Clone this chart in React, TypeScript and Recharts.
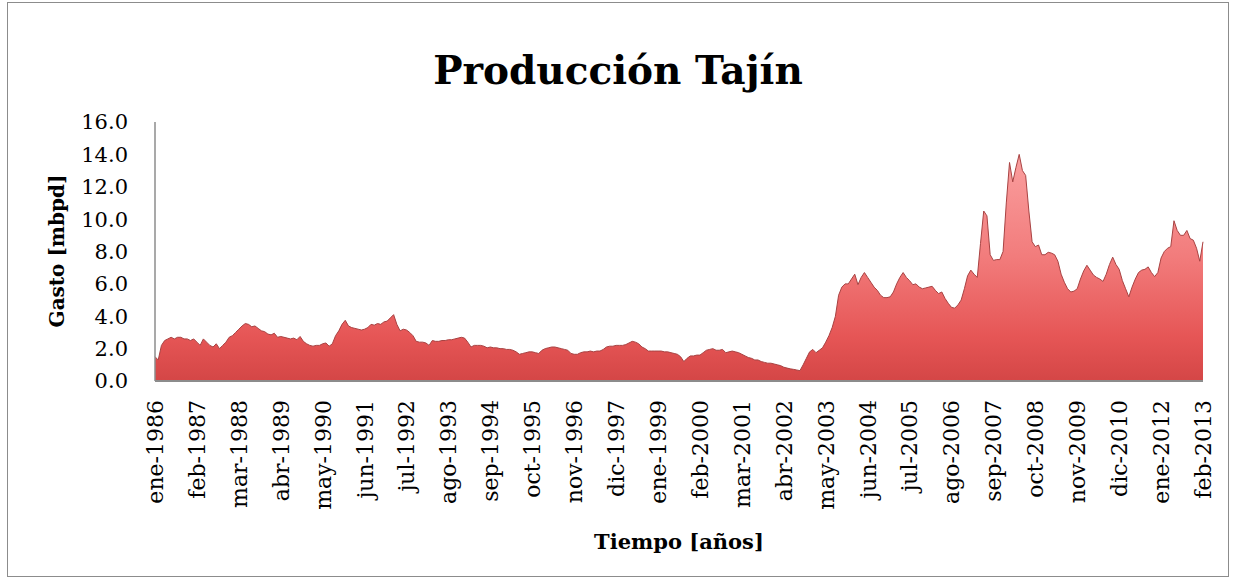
import { AreaChart, Area, XAxis, YAxis } from 'recharts'

const FONT = '"DejaVu Serif", serif'

const MONTHS = ['ene', 'feb', 'mar', 'abr', 'may', 'jun', 'jul', 'ago', 'sep', 'oct', 'nov', 'dic']
const START_YEAR = 1986

// Gasto mensual [mbpd], ene-1986 .. feb-2013 (una fila por año)
const gasto = [
  1.5, 1.3, 2.2, 2.5, 2.6, 2.7, 2.6, 2.7, 2.7, 2.6, 2.6, 2.5,
  2.6, 2.4, 2.2, 2.6, 2.4, 2.2, 2.1, 2.3, 2.0, 2.2, 2.4, 2.7,
  2.8, 3.0, 3.2, 3.4, 3.55, 3.5, 3.35, 3.4, 3.25, 3.1, 3.05, 2.9,
  2.85, 2.95, 2.7, 2.75, 2.7, 2.65, 2.6, 2.65, 2.55, 2.75, 2.45, 2.3,
  2.2, 2.15, 2.2, 2.2, 2.3, 2.35, 2.15, 2.3, 2.8, 3.1, 3.5, 3.75,
  3.4, 3.3, 3.25, 3.2, 3.15, 3.2, 3.3, 3.5, 3.45, 3.55, 3.5, 3.65,
  3.7, 3.9, 4.1, 3.5, 3.1, 3.2, 3.15, 3.0, 2.8, 2.45, 2.4, 2.4,
  2.35, 2.2, 2.5, 2.45, 2.45, 2.5, 2.5, 2.55, 2.55, 2.6, 2.65, 2.7,
  2.65, 2.4, 2.1, 2.2, 2.2, 2.2, 2.15, 2.05, 2.1, 2.05, 2.05, 2.0,
  2.0, 1.95, 1.95, 1.9, 1.8, 1.65, 1.7, 1.75, 1.8, 1.8, 1.75, 1.7,
  1.9, 2.0, 2.05, 2.1, 2.1, 2.05, 2.0, 1.95, 1.9, 1.7, 1.65, 1.65,
  1.75, 1.8, 1.8, 1.85, 1.8, 1.85, 1.85, 1.95, 2.1, 2.15, 2.15, 2.2,
  2.2, 2.2, 2.25, 2.35, 2.45, 2.4, 2.3, 2.1, 2.0, 1.85, 1.85, 1.85,
  1.85, 1.85, 1.8, 1.8, 1.75, 1.7, 1.65, 1.5, 1.2, 1.4, 1.55, 1.55,
  1.6, 1.6, 1.75, 1.9, 1.95, 2.0, 1.9, 1.9, 1.95, 1.75, 1.8, 1.85,
  1.8, 1.75, 1.65, 1.55, 1.45, 1.4, 1.3, 1.3, 1.2, 1.15, 1.1, 1.1,
  1.05, 1.0, 0.95, 0.85, 0.8, 0.75, 0.72, 0.68, 0.64, 1.0, 1.4, 1.8,
  1.95, 1.75, 1.9, 2.05, 2.4, 2.8, 3.3, 4.0, 5.3, 5.8, 6.0, 6.0,
  6.3, 6.6, 5.95, 6.4, 6.7, 6.4, 6.1, 5.8, 5.6, 5.3, 5.15, 5.15,
  5.2, 5.5, 6.0, 6.4, 6.7, 6.4, 6.2, 5.95, 6.0, 5.8, 5.7, 5.75,
  5.8, 5.85, 5.6, 5.4, 5.5, 5.1, 4.8, 4.55, 4.5, 4.7, 5.0, 5.7,
  6.5, 6.85, 6.6, 6.4, 8.5, 10.5, 10.2, 7.8, 7.45, 7.5, 7.5, 8.0,
  11.0, 13.5, 12.3, 13.2, 14.0, 13.0, 12.7, 10.5, 8.6, 8.3, 8.4, 7.8,
  7.8, 7.95, 7.9, 7.8, 7.4, 6.6, 6.1, 5.7, 5.5, 5.55, 5.7, 6.3,
  6.8, 7.15, 6.85, 6.55, 6.4, 6.3, 6.15, 6.6, 7.2, 7.65, 7.2, 6.9,
  6.2, 5.7, 5.2, 5.8, 6.3, 6.7, 6.85, 6.9, 7.05, 6.7, 6.45, 6.7,
  7.6, 8.0, 8.2, 8.3, 9.9, 9.3, 9.0, 9.0, 9.3, 8.8, 8.7, 8.2,
  7.4, 8.6,
]

const yTicks = [0, 2, 4, 6, 8, 10, 12, 14, 16]

const data = gasto.map((v, i) => ({
  label: `${MONTHS[i % 12]}-${START_YEAR + Math.floor(i / 12)}`,
  gasto: v,
}))

function MonthTick(props: any) {
  const { x, y, payload } = props
  return (
    <g transform={`translate(${x},${y})`}>
      <text
        transform="rotate(-90)"
        x={-19}
        y={0}
        dy="0.36em"
        textAnchor="end"
        fontFamily={FONT}
        fontSize={22}
        fill="#000"
      >
        {payload.value}
      </text>
    </g>
  )
}

export default function App() {
  return (
    <div style={{ position: 'absolute', left: 0, top: 0, width: 1233, height: 580, background: '#fff' }}>
      <AreaChart
        width={1233}
        height={580}
        data={data}
        margin={{ top: 122, right: 30, left: 75, bottom: 39 }}
      >
        <defs>
          <linearGradient id="redFill" x1="0" y1="0" x2="0" y2="1">
            <stop offset="0%" stopColor="#fa9f9f" />
            <stop offset="45%" stopColor="#f27c7c" />
            <stop offset="80%" stopColor="#e65656" />
            <stop offset="100%" stopColor="#d44646" />
          </linearGradient>
        </defs>
        <XAxis
          dataKey="label"
          interval={12}
          height={160}
          tick={MonthTick}
          tickLine={false}
          tickSize={0}
          tickMargin={0}
          axisLine={{ stroke: '#8c8c8c', strokeWidth: 2 }}
        />
        <YAxis
          width={80}
          domain={[0, 16]}
          ticks={yTicks}
          interval={0}
          tickFormatter={(v: number) => v.toFixed(1)}
          tick={{ fontFamily: FONT, fontSize: 21, fill: '#000' }}
          tickLine={false}
          tickSize={0}
          tickMargin={27}
          axisLine={{ stroke: '#8c8c8c', strokeWidth: 1.5 }}
        />
        <Area
          type="linear"
          dataKey="gasto"
          stroke="#a84242"
          strokeWidth={1}
          fill="url(#redFill)"
          fillOpacity={1}
          dot={false}
          activeDot={false}
          isAnimationActive={false}
        />
      </AreaChart>
      <svg
        width={1233}
        height={580}
        style={{ position: 'absolute', left: 0, top: 0, pointerEvents: 'none' }}
      >
        <rect x={7.5} y={2.5} width={1221} height={574} fill="none" stroke="#8c8c8c" strokeWidth={1} />
        <text x={618} y={84} textAnchor="middle" fontFamily={FONT} fontWeight="bold" fontSize={39} fill="#000">
          Producción Tajín
        </text>
        <text
          transform="translate(64,251) rotate(-90)"
          textAnchor="middle"
          fontFamily={FONT}
          fontWeight="bold"
          fontSize={20}
          fill="#000"
        >
          Gasto [mbpd]
        </text>
        <text x={679} y={549} textAnchor="middle" fontFamily={FONT} fontWeight="bold" fontSize={21} fill="#000">
          Tiempo [años]
        </text>
      </svg>
    </div>
  )
}
